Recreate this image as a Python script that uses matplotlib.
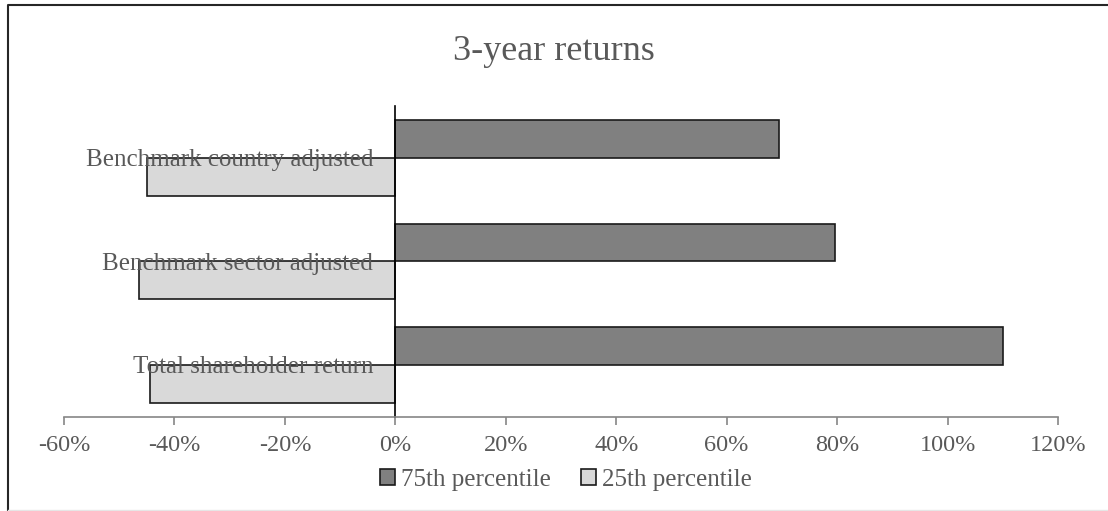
import matplotlib.pyplot as plt
from matplotlib.lines import Line2D
from matplotlib.ticker import FuncFormatter

# data, bottom to top
categories = ["Total shareholder return", "Benchmark sector adjusted", "Benchmark country adjusted"]
p75 = [110.0, 79.7, 69.5]
p25 = [-44.5, -46.5, -45.0]
xticks = [-60, -40, -20, 0, 20, 40, 60, 80, 100, 120]

plt.rcParams['font.family'] = ['Liberation Serif', 'DejaVu Serif']
grey_txt = '#595959'

fig = plt.figure(figsize=(11.08, 5.11), dpi=100)
ax = fig.add_axes([64 / 1108, 1 - 416.7 / 511, (1058 - 64) / 1108, (416.7 - 106) / 511])

h = 0.365
ypos = range(len(categories))
ax.barh([y + h / 2 for y in ypos], p75, height=h, color='#808080',
        edgecolor='#1a1a1a', linewidth=1.2, label='75th percentile', zorder=1)
ax.barh([y - h / 2 for y in ypos], p25, height=h, color='#d9d9d9',
        edgecolor='#1a1a1a', linewidth=1.2, label='25th percentile', zorder=1)

ax.set_xlim(-60, 120)
ax.set_ylim(-0.5, 2.5)
ax.set_xticks(xticks)
ax.xaxis.set_major_formatter(FuncFormatter(lambda v, _: f"{v:.0f}%"))
ax.tick_params(axis='x', direction='out', length=6, width=1.2, color='#868686',
               labelsize=17.5, labelcolor=grey_txt, pad=7)

# category labels sit next to the zero line
ax.set_yticks(list(ypos))
ax.set_yticklabels(categories)
ax.spines['left'].set_position(('data', 0))
ax.spines['left'].set_color('black')
ax.spines['left'].set_linewidth(1.2)
ax.tick_params(axis='y', length=0, labelsize=18, labelcolor=grey_txt, pad=16)

ax.spines['bottom'].set_color('#868686')
ax.spines['bottom'].set_linewidth(1.2)
for s in ['top', 'right']:
    ax.spines[s].set_visible(False)

fig.text(0.5, 1 - 52 / 511, "3-year returns", ha='center', va='center',
         fontsize=26, color=grey_txt)

fig.legend(loc='center', bbox_to_anchor=(566 / 1108, 1 - 480 / 511), ncol=2,
           frameon=False, fontsize=18, labelcolor=grey_txt, handlelength=0.6,
           handleheight=0.6, handletextpad=0.25, columnspacing=1.2)

# chart frame: dark left/top edge, faint bottom edge
x0, y0, y1 = 7.5 / 1108, 1 - 509.5 / 511, 1 - 5 / 511
fig.add_artist(Line2D([x0, x0, 1.0], [y0, y1, y1], transform=fig.transFigure,
                      color='#262626', linewidth=1.5))
fig.add_artist(Line2D([x0, 1.0], [y0, y0], transform=fig.transFigure,
                      color='#e6e6e6', linewidth=1.0))

fig.savefig('out.png', dpi=100)
